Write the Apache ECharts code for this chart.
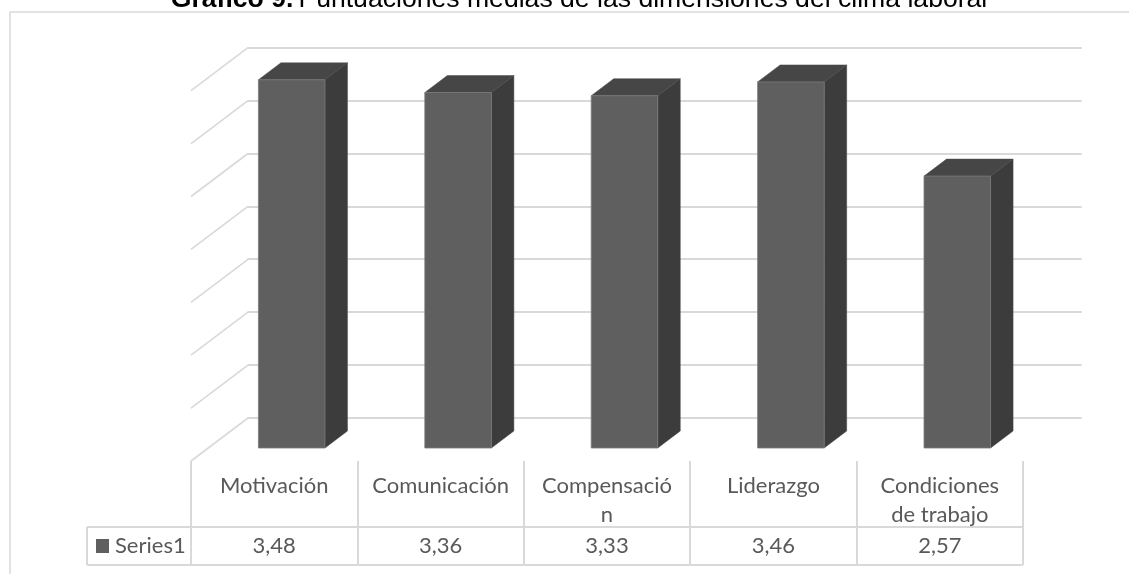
<!DOCTYPE html>
<html>
<head>
<meta charset="utf-8">
<style>html,body{margin:0;padding:0;background:#fff}#chart{width:1129px;height:574px}</style>
<script src="https://cdn.jsdelivr.net/npm/echarts@6/dist/echarts.min.js"></script>
</head>
<body>
<div id="chart"></div>
<script>
// Mean scores per work-climate dimension
const categories = ['Motivación', 'Comunicación', 'Compensació\nn', 'Liderazgo', 'Condiciones\nde trabajo'];
const scores = [3.48, 3.36, 3.33, 3.46, 2.57];
const scoreLabels = ['3,48', '3,36', '3,33', '3,46', '2,57'];
const levels = [0, 0.5, 1, 1.5, 2, 2.5, 3, 3.5];

// Fake 3D layout: floor depth, bar plane offset and bar depth, in pixels
const WALL = { dx: 57, dy: 43 };
const PLANE = { dx: 17.5, dy: 13 };
const DEPTH = { dx: 22.5, dy: 17 };
const LINE = '#d9d9d9';
const TEXT = '#595959';
const FONT = 'Lato, "Open Sans", sans-serif';

const chart = echarts.init(document.getElementById('chart'), null, { renderer: 'canvas' });

function renderWallSlant(params, api) {
  const band = api.size([1, 0])[0];
  const p = api.coord([0, api.value(0)]);
  const x = p[0] - band / 2;
  return {
    type: 'line',
    shape: { x1: x, y1: p[1], x2: x + WALL.dx, y2: p[1] - WALL.dy },
    style: { stroke: LINE, lineWidth: 1.6 }
  };
}

function renderBar(params, api) {
  const i = api.value(0);
  const band = api.size([1, 0])[0];
  const w = band * 0.4;
  const top = api.coord([i, api.value(1)]);
  const base = api.coord([i, 0]);
  const x0 = top[0] - w / 2 + PLANE.dx;
  const x1 = x0 + w;
  const y0 = top[1] - PLANE.dy;
  const y1 = base[1] - PLANE.dy;
  const d = DEPTH;
  return {
    type: 'group',
    children: [
      { type: 'polygon', shape: { points: [[x0, y0], [x0 + d.dx, y0 - d.dy], [x1 + d.dx, y0 - d.dy], [x1, y0]] },
        style: { fill: '#464646', stroke: '#4c4c4c', lineWidth: 0.5 } },
      { type: 'polygon', shape: { points: [[x1, y0], [x1 + d.dx, y0 - d.dy], [x1 + d.dx, y1 - d.dy], [x1, y1]] },
        style: { fill: '#3c3c3c', stroke: '#484848', lineWidth: 0.5 } },
      { type: 'rect', shape: { x: x0, y: y0, width: w, height: y1 - y0 },
        style: { fill: '#5f5f5f', stroke: '#7a7a7a', lineWidth: 0.8 } }
    ]
  };
}

function renderValueCell(params, api) {
  const p = api.coord([api.value(0), 0]);
  return {
    type: 'text',
    style: {
      x: p[0], y: 546, text: scoreLabels[api.value(0)],
      fill: TEXT, font: '22px ' + FONT, textAlign: 'center', textVerticalAlign: 'middle'
    }
  };
}

const hline = (x1, y1, x2, y2) => ({
  type: 'line', silent: true, shape: { x1, y1, x2, y2 }, style: { stroke: LINE, lineWidth: 2 }
});

chart.setOption({
  animation: false,
  backgroundColor: '#fff',
  title: {
    text: '{b|Gráfico 9.} {r|Puntuaciones medias de las dimensiones del clima laboral}',
    left: 574, top: -19, textAlign: 'center',
    textStyle: {
      rich: {
        b: { fontFamily: 'Liberation Sans', fontWeight: 'bold', fontSize: 26.6, color: '#000' },
        r: { fontFamily: 'Liberation Sans', fontWeight: 'normal', fontSize: 26.6, color: '#000' }
      }
    }
  },
  legend: {
    left: 91, top: 530, itemWidth: 13, itemHeight: 14, itemGap: 0,
    data: [{ name: 'Series1', icon: 'rect' }],
    textStyle: { fontFamily: FONT, fontSize: 22, color: TEXT, padding: [0, 0, 0, 1] },
    selectedMode: false
  },
  grid: [
    { left: 191, width: 832, top: 90.7, height: 370.3 },
    { left: 247.5, width: 834.2, top: 47.6, height: 370.3 }
  ],
  xAxis: [
    {
      type: 'category', gridIndex: 0, data: categories,
      axisLine: { show: false },
      axisTick: { show: true, length: 104, lineStyle: { color: LINE, width: 2 } },
      axisLabel: {
        interval: 0, margin: 10, fontFamily: FONT, fontSize: 22, color: TEXT,
        lineHeight: 29, verticalAlign: 'top', hideOverlap: false
      }
    },
    { type: 'category', gridIndex: 1, data: categories, show: false }
  ],
  yAxis: [
    { type: 'value', gridIndex: 0, min: 0, max: 3.5, interval: 0.5, show: false },
    {
      type: 'value', gridIndex: 1, min: 0, max: 3.5, interval: 0.5,
      axisLine: { show: false }, axisTick: { show: false }, axisLabel: { show: false },
      splitLine: { show: true, lineStyle: { color: LINE, width: 2 } }
    }
  ],
  series: [
    {
      type: 'custom', name: 'wall', xAxisIndex: 0, yAxisIndex: 0, clip: false, silent: true,
      data: levels.map(v => [v]), encode: { y: 0 }, renderItem: renderWallSlant, z: 1
    },
    {
      type: 'custom', name: 'Series1', xAxisIndex: 0, yAxisIndex: 0, clip: false,
      itemStyle: { color: '#5f5f5f' },
      data: scores.map((v, i) => [i, v]), encode: { x: 0, y: 1 }, renderItem: renderBar, z: 3
    },
    {
      type: 'custom', name: 'values', xAxisIndex: 0, yAxisIndex: 0, clip: false, silent: true,
      data: scores.map((v, i) => [i, v]), encode: { x: 0, y: 1 }, renderItem: renderValueCell, z: 4
    }
  ],
  graphic: [
    // chart frame, open on the right and at the bottom
    { type: 'polyline', silent: true, shape: { points: [[10, 574], [10, 12], [1129, 12]] },
      style: { stroke: LINE, lineWidth: 1.5, fill: null } },
    // data table rows
    hline(87, 527, 1023, 527),
    hline(87, 565, 1023, 565),
    hline(87, 527, 87, 565)
  ]
});
</script>
</body>
</html>
